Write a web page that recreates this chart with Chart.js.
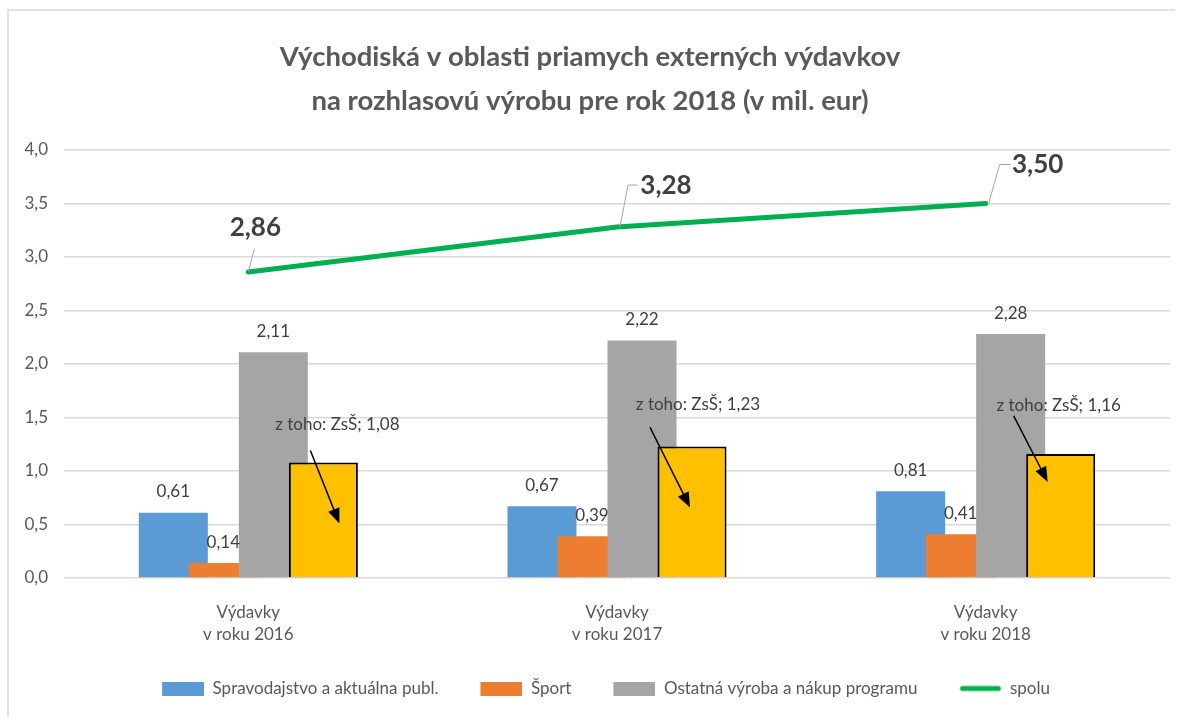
<!DOCTYPE html>
<html>
<head>
<meta charset="utf-8">
<script src="https://cdn.jsdelivr.net/npm/chart.js@4"></script>
<style>
  html, body { margin: 0; padding: 0; background: #fff; }
  #wrap { width: 1184px; height: 717px; }
</style>
</head>
<body>
<div id="wrap"><canvas id="chart" width="1184" height="717"></canvas></div>
<script>
// Východiská - priame externé výdavky (v mil. eur)

const categories = [['Výdavky', 'v roku 2016'], ['Výdavky', 'v roku 2017'], ['Výdavky', 'v roku 2018']];
const spravodajstvo = [0.61, 0.67, 0.81];
const sport = [0.14, 0.39, 0.41];
const ostatna = [2.11, 2.22, 2.28];
const zss = [1.08, 1.23, 1.16];
const spolu = [2.86, 3.28, 3.50];
const yTicks = [0, 0.5, 1, 1.5, 2, 2.5, 3, 3.5, 4];

const FONT = "Lato, 'Open Sans', sans-serif";
const TEXT = '#595959';
const LABEL = '#404040';

function fmt(v, d) {
  return v.toFixed(d).replace('.', ',');
}

// legend icons (extra transparent space on the left = gap between items)
function makeIcon(color, isLine) {
  const c = document.createElement('canvas');
  c.width = 74;
  c.height = 14;
  const ctx = c.getContext('2d');
  if (isLine) {
    ctx.strokeStyle = color;
    ctx.lineWidth = 5;
    ctx.lineCap = 'round';
    ctx.beginPath();
    ctx.moveTo(35, 7);
    ctx.lineTo(71, 7);
    ctx.stroke();
  } else {
    ctx.fillStyle = color;
    ctx.fillRect(32, 0, 42, 14);
  }
  return c;
}

const legendIcons = [
  makeIcon('#5B9BD5'),
  makeIcon('#ED7D31'),
  makeIcon('#A5A5A5'),
  null,
  makeIcon('#00B050', true)
];

// offsets of the "z toho" callouts relative to the top of the yellow bar
const zssCallouts = [
  { tx: 14, ty: -38, ax: -13, ay: -12, bx: 16, by: 61 },
  { tx: 6, ty: -42, ax: -42, ay: -19, bx: -2, by: 61 },
  { tx: -2, ty: -48, ax: -47, ay: -38, bx: -13, by: 28 }
];

// offsets of the "spolu" labels and their leader lines relative to the point
const spoluCallouts = [
  { tx: 7, ty: -44, path: [[0, 0], [6, -23]] },
  { tx: 49, ty: -41, path: [[3, 0], [11, -42], [21, -42]] },
  { tx: 52, ty: -39, path: [[3, 0], [14, -39], [25, -39]] }
];

const frame = {
  id: 'frame',
  beforeDraw: function(chart) {
    const ctx = chart.ctx;
    ctx.save();
    ctx.fillStyle = '#fff';
    ctx.fillRect(0, 0, chart.width, chart.height);
    ctx.strokeStyle = '#D9D9D9';
    ctx.lineWidth = 1.5;
    ctx.beginPath();
    ctx.moveTo(8, chart.height);
    ctx.lineTo(8, 10);
    ctx.lineTo(1175, 10);
    ctx.stroke();
    ctx.restore();
  }
};

// draw bars in dataset order so later series overlap earlier ones
const drawInOrder = {
  id: 'drawInOrder',
  beforeDatasetsDraw: function(chart) {
    chart.data.datasets.forEach(function(ds, i) {
      const meta = chart.getDatasetMeta(i);
      if (!meta.hidden) meta.controller.draw();
    });
    return false;
  }
};

const labels = {
  id: 'labels',
  afterDraw: function(chart) {
    const ctx = chart.ctx;
    ctx.save();
    ctx.textAlign = 'center';
    ctx.textBaseline = 'middle';

    // plain value labels
    ctx.font = '17px ' + FONT;
    ctx.fillStyle = LABEL;
    [0, 1, 2].forEach(function(di) {
      const meta = chart.getDatasetMeta(di);
      const values = chart.data.datasets[di].data;
      meta.data.forEach(function(bar, i) {
        ctx.fillText(fmt(values[i], 2), bar.x, bar.y - 21);
      });
    });

    // z toho: ZsŠ callouts with arrows
    const zMeta = chart.getDatasetMeta(3);
    zMeta.data.forEach(function(bar, i) {
      const c = zssCallouts[i];
      ctx.fillStyle = LABEL;
      ctx.fillText('z toho: ZsŠ; ' + fmt(zss[i], 2), bar.x + c.tx, bar.y + c.ty);
      const x1 = bar.x + c.ax, y1 = bar.y + c.ay;
      const x2 = bar.x + c.bx, y2 = bar.y + c.by;
      const ang = Math.atan2(y2 - y1, x2 - x1);
      ctx.strokeStyle = '#000';
      ctx.lineWidth = 1.5;
      ctx.beginPath();
      ctx.moveTo(x1, y1);
      ctx.lineTo(x2 - 10 * Math.cos(ang), y2 - 10 * Math.sin(ang));
      ctx.stroke();
      ctx.fillStyle = '#000';
      ctx.beginPath();
      ctx.moveTo(x2, y2);
      ctx.lineTo(x2 - 15 * Math.cos(ang) + 6 * Math.sin(ang), y2 - 15 * Math.sin(ang) - 6 * Math.cos(ang));
      ctx.lineTo(x2 - 15 * Math.cos(ang) - 6 * Math.sin(ang), y2 - 15 * Math.sin(ang) + 6 * Math.cos(ang));
      ctx.closePath();
      ctx.fill();
    });

    // spolu labels with leader lines
    const lMeta = chart.getDatasetMeta(4);
    ctx.font = 'bold 26px ' + FONT;
    lMeta.data.forEach(function(pt, i) {
      const c = spoluCallouts[i];
      ctx.strokeStyle = '#A6A6A6';
      ctx.lineWidth = 1;
      ctx.beginPath();
      c.path.forEach(function(p, k) {
        if (k === 0) ctx.moveTo(pt.x + p[0], pt.y + p[1]);
        else ctx.lineTo(pt.x + p[0], pt.y + p[1]);
      });
      ctx.stroke();
      ctx.fillStyle = LABEL;
      ctx.fillText(fmt(spolu[i], 2), pt.x + c.tx, pt.y + c.ty);
    });
    ctx.restore();
  }
};

const chart = new Chart(document.getElementById('chart'), {
  data: {
    labels: categories,
    datasets: [{
      type: 'bar',
      label: 'Spravodajstvo a aktuálna publ.',
      data: spravodajstvo,
      backgroundColor: '#5B9BD5'
    }, {
      type: 'bar',
      label: 'Šport',
      data: sport,
      backgroundColor: '#ED7D31'
    }, {
      type: 'bar',
      label: 'Ostatná výroba a nákup programu',
      data: ostatna,
      backgroundColor: '#A5A5A5'
    }, {
      type: 'bar',
      label: 'z toho: ZsŠ',
      data: zss,
      backgroundColor: '#FFC000',
      borderColor: '#000',
      borderWidth: 2
    }, {
      type: 'line',
      label: 'spolu',
      data: spolu,
      borderColor: '#00B050',
      backgroundColor: '#00B050',
      borderWidth: 5,
      borderCapStyle: 'round',
      pointRadius: 0,
      tension: 0
    }]
  },
  options: {
    responsive: false,
    animation: false,
    categoryPercentage: 0.5427,
    barPercentage: 1.38,
    layout: {
      padding: { left: 10, right: 14, top: 0, bottom: 10 }
    },
    plugins: {
      tooltip: { enabled: false },
      title: {
        display: true,
        text: ['Východiská v oblasti priamych externých výdavkov', 'na rozhlasovú výrobu pre rok 2018 (v mil. eur)'],
        color: TEXT,
        font: { family: FONT, size: 27.5, weight: 'bold', lineHeight: 1.6 },
        padding: { top: 35, bottom: 27 }
      },
      legend: {
        position: 'bottom',
        onClick: null,
        labels: {
          color: TEXT,
          font: { family: FONT, size: 17 },
          usePointStyle: true,
          pointStyleWidth: 74,
          boxHeight: 14,
          padding: 10,
          generateLabels: function(chart) {
            const items = Chart.defaults.plugins.legend.labels.generateLabels(chart);
            return items.filter(function(it) { return it.datasetIndex !== 3; }).map(function(it) {
              it.pointStyle = legendIcons[it.datasetIndex];
              it.lineWidth = 0;
              return it;
            });
          }
        }
      }
    },
    scales: {
      x: {
        grid: { display: false, drawTicks: false },
        border: { display: false },
        ticks: {
          color: TEXT,
          font: { family: FONT, size: 17, lineHeight: 1.3 },
          padding: 23
        },
        afterFit: function(scale) { scale.height = 92; }
      },
      y: {
        min: 0,
        max: 4,
        grid: { color: '#D9D9D9', lineWidth: 1.5, drawTicks: false },
        border: { display: false },
        afterBuildTicks: function(scale) {
          scale.ticks = yTicks.map(function(v) { return { value: v }; });
        },
        ticks: {
          color: TEXT,
          font: { family: FONT, size: 17 },
          padding: 16,
          callback: function(value) { return fmt(value, 1); }
        },
        afterFit: function(scale) { scale.width = 54; }
      }
    }
  },
  plugins: [frame, drawInOrder, labels]
});
</script>
</body>
</html>
